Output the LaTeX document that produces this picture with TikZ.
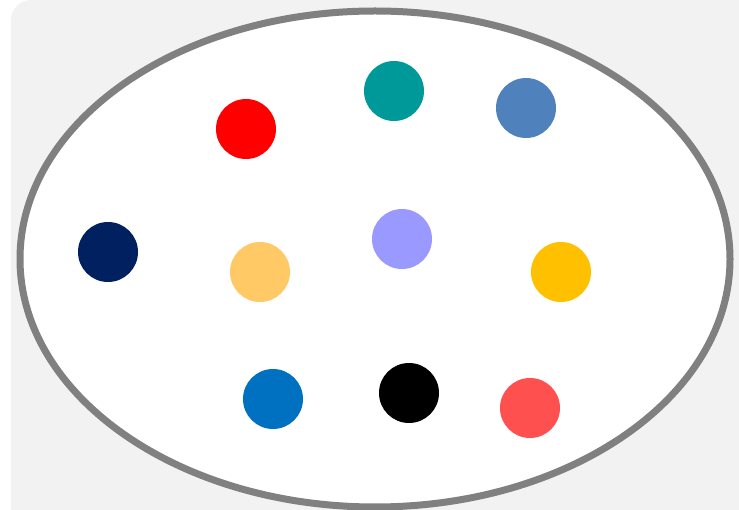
\documentclass[tikz,border=0pt]{standalone}
\usepackage{tikz}
\usetikzlibrary{positioning, shapes.geometric}
\definecolor{panelgray}{HTML}{F2F2F2}
\definecolor{rimgray}{HTML}{808080}
\definecolor{tealdot}{HTML}{009999}
\definecolor{steeldot}{HTML}{4F81BD}
\definecolor{navydot}{HTML}{002060}
\definecolor{peachdot}{HTML}{FFC966}
\definecolor{lavenderdot}{HTML}{9999FF}
\definecolor{amberdot}{HTML}{FFC000}
\definecolor{bluedot}{HTML}{0070C0}
\definecolor{coraldot}{HTML}{FF5050}

\begin{document}
\begin{tikzpicture}[x=1pt,y=-1pt,
        dot/.style={circle, fill=#1, draw=none, inner sep=0pt, minimum size=60pt},
        set/.style={ellipse, draw=rimgray, fill=white, line width=7pt, inner sep=0pt,
            minimum width=710pt, minimum height=496pt}]
        \useasboundingbox (0,0) rectangle (739,510);
        \begin{scope}
            \clip (0,0) rectangle (739,510);
            \fill[panelgray, rounded corners=20pt] (11,0) rectangle (780,550);
        \end{scope}

        \node[set] (universe) at (375,259) {};

        \node[dot=red] (red) at (246,129) {};
        \node[dot=tealdot] (teal) at (394,91) {};
        \node[dot=steeldot] (steel) at (526,108) {};
        \node[dot=navydot] (navy) at (108,252) {};
        \node[dot=peachdot] (peach) at (260,272) {};
        \node[dot=lavenderdot] (lavender) at (402,239) {};
        \node[dot=amberdot] (amber) at (561,272) {};
        \node[dot=bluedot] (blue) at (273,399) {};
        \node[dot=black] (black) at (409,393) {};
        \node[dot=coraldot] (coral) at (530,408) {};
    \end{tikzpicture}
\end{document}
